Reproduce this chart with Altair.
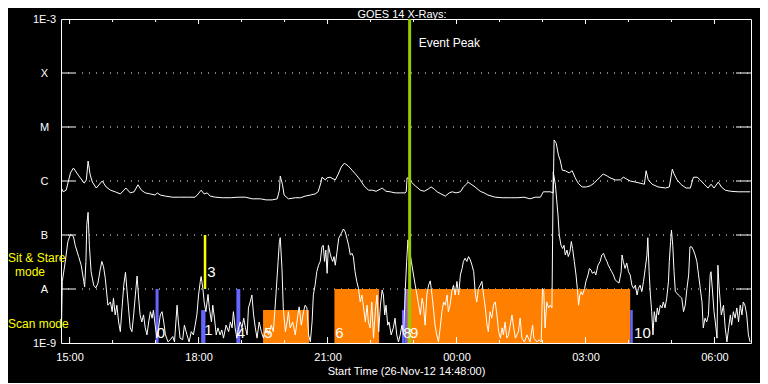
import json
import altair as alt
import pandas as pd

# ---------------- data (time in hours from 26-Nov-12 00:00 UT, flux as log10 W/m^2) ----------------
long_t = [14.81, 14.85, 14.92, 15.02, 15.09, 15.20, 15.34, 15.39, 15.43, 15.48,
          15.53, 15.62, 15.76, 15.85, 15.95, 16.06, 16.18, 16.31, 16.41, 16.50,
          16.59, 16.67, 16.76, 16.88, 16.99, 17.04, 17.11, 17.23, 17.39, 17.58,
          17.76, 17.92, 17.99, 18.06, 18.13, 18.20, 18.27, 18.39, 18.55, 18.74,
          18.92, 19.09, 19.25, 19.44, 19.57, 19.71, 19.83, 19.88, 19.90, 19.95,
          19.99, 20.09, 20.25, 20.37, 20.48, 20.60, 20.71, 20.78, 20.85, 20.87,
          20.95, 20.99, 21.06, 21.13, 21.18, 21.25, 21.32, 21.39, 21.48, 21.57,
          21.67, 21.76, 21.85, 21.95, 22.04, 22.13, 22.23, 22.27, 22.36, 22.46,
          22.57, 22.69, 22.80, 22.83, 22.85, 22.90, 22.95, 23.04, 23.16, 23.25,
          23.34, 23.41, 23.48, 23.55, 23.64, 23.74, 23.83, 23.90, 23.99, 24.09,
          24.16, 24.23, 24.27, 24.34, 24.43, 24.55, 24.64, 24.73, 24.90, 25.06,
          25.25, 25.43, 25.57, 25.71, 25.83, 25.95, 26.02, 26.18, 26.25, 26.27,
          26.32, 26.37, 26.41, 26.46, 26.53, 26.62, 26.69, 26.76, 26.83, 26.92,
          27.02, 27.11, 27.20, 27.27, 27.34, 27.41, 27.51, 27.57, 27.69, 27.81,
          27.88, 27.95, 28.04, 28.16, 28.27, 28.37, 28.41, 28.46, 28.55, 28.69,
          28.86, 28.95, 29.02, 29.06, 29.13, 29.23, 29.34, 29.44, 29.51, 29.60,
          29.67, 29.76, 29.85, 29.92, 29.99, 30.09, 30.16, 30.25, 30.37, 30.55,
          30.71, 30.83]
long_f = [-6.13, -6.20, -6.17, -5.85, -5.76, -5.89, -6.04, -5.98, -5.63, -5.89,
          -6.02, -6.13, -6.00, -6.11, -6.17, -6.20, -6.24, -6.13, -6.22, -6.20,
          -6.07, -6.17, -6.22, -6.24, -6.26, -6.22, -6.26, -6.28, -6.30, -6.30,
          -6.30, -6.30, -6.24, -6.17, -6.24, -6.22, -6.28, -6.30, -6.31, -6.31,
          -6.30, -6.30, -6.33, -6.33, -6.35, -6.35, -6.33, -6.17, -5.91, -6.06,
          -6.26, -6.33, -6.31, -6.31, -6.28, -6.26, -6.24, -6.20, -6.02, -5.93,
          -5.98, -5.94, -5.93, -5.96, -5.98, -5.87, -5.74, -5.67, -5.72, -5.80,
          -5.89, -5.98, -6.09, -6.17, -6.17, -6.19, -6.15, -6.13, -6.19, -6.20,
          -6.22, -6.22, -6.22, -6.20, -5.94, -5.96, -6.02, -6.09, -6.17, -6.19,
          -6.15, -6.11, -6.15, -6.20, -6.24, -6.28, -6.22, -6.20, -6.22, -6.20,
          -6.11, -6.06, -6.02, -6.06, -6.11, -6.19, -6.22, -6.26, -6.30, -6.31,
          -6.31, -6.31, -6.30, -6.33, -6.30, -6.30, -6.20, -6.20, -6.22, -5.24,
          -5.30, -5.52, -5.61, -5.80, -5.81, -5.85, -5.81, -5.94, -6.04, -6.11,
          -6.11, -6.09, -6.04, -5.98, -5.93, -5.87, -5.91, -5.94, -5.98, -5.98,
          -5.93, -5.96, -6.00, -6.02, -6.04, -6.06, -5.81, -5.98, -6.06, -6.11,
          -6.13, -6.11, -5.78, -5.87, -5.98, -6.07, -6.13, -6.13, -5.93, -5.93,
          -5.98, -6.06, -6.13, -6.06, -6.13, -6.02, -6.11, -6.17, -6.19, -6.20,
          -6.20, -6.20]

short_t = [14.81, 14.83, 14.90, 14.96, 15.02, 15.09, 15.13, 15.21, 15.27, 15.33,
           15.35, 15.38, 15.40, 15.43, 15.46, 15.50, 15.56, 15.61, 15.66, 15.71,
           15.75, 15.79, 15.83, 15.89, 15.95, 15.99, 16.02, 16.06, 16.10, 16.14,
           16.18, 16.22, 16.26, 16.30, 16.33, 16.37, 16.41, 16.45, 16.49, 16.53,
           16.57, 16.60, 16.64, 16.68, 16.72, 16.76, 16.80, 16.84, 16.88, 16.92,
           16.95, 16.99, 17.03, 17.07, 17.11, 17.15, 17.19, 17.23, 17.29, 17.34,
           17.40, 17.44, 17.50, 17.53, 17.57, 17.63, 17.67, 17.73, 17.78, 17.83,
           17.88, 17.92, 17.96, 18.00, 18.04, 18.06, 18.10, 18.13, 18.17, 18.22,
           18.25, 18.30, 18.33, 18.37, 18.41, 18.45, 18.50, 18.54, 18.58, 18.64,
           18.70, 18.74, 18.78, 18.81, 18.85, 18.89, 18.93, 18.97, 19.01, 19.05,
           19.09, 19.13, 19.16, 19.20, 19.24, 19.28, 19.32, 19.36, 19.41, 19.46,
           19.51, 19.57, 19.63, 19.69, 19.74, 19.80, 19.85, 19.88, 19.90, 19.94,
           19.97, 20.02, 20.06, 20.09, 20.13, 20.19, 20.25, 20.31, 20.34, 20.39,
           20.44, 20.48, 20.52, 20.56, 20.60, 20.64, 20.67, 20.71, 20.75, 20.79,
           20.83, 20.87, 20.90, 20.93, 20.96, 20.99, 21.02, 21.06, 21.09, 21.12,
           21.15, 21.18, 21.22, 21.26, 21.32, 21.37, 21.41, 21.45, 21.49, 21.53,
           21.57, 21.60, 21.64, 21.68, 21.72, 21.76, 21.80, 21.84, 21.88, 21.92,
           21.95, 21.99, 22.03, 22.07, 22.11, 22.15, 22.19, 22.23, 22.27, 22.30,
           22.33, 22.36, 22.40, 22.43, 22.48, 22.53, 22.57, 22.61, 22.65, 22.69,
           22.73, 22.77, 22.81, 22.84, 22.87, 22.90, 22.95, 23.00, 23.04, 23.08,
           23.12, 23.16, 23.20, 23.23, 23.27, 23.31, 23.35, 23.39, 23.43, 23.47,
           23.50, 23.54, 23.58, 23.62, 23.66, 23.70, 23.74, 23.78, 23.81, 23.85,
           23.89, 23.93, 23.97, 24.01, 24.05, 24.09, 24.13, 24.16, 24.20, 24.24,
           24.28, 24.32, 24.36, 24.40, 24.44, 24.47, 24.51, 24.55, 24.59, 24.63,
           24.67, 24.71, 24.74, 24.78, 24.82, 24.86, 24.90, 24.94, 24.98, 25.02,
           25.06, 25.09, 25.13, 25.17, 25.21, 25.29, 25.33, 25.37, 25.44, 25.48,
           25.52, 25.58, 25.64, 25.71, 25.77, 25.80, 25.87, 25.92, 25.97, 26.00,
           26.03, 26.06, 26.10, 26.14, 26.18, 26.22, 26.25, 26.30, 26.36, 26.39,
           26.43, 26.47, 26.50, 26.53, 26.57, 26.60, 26.64, 26.67, 26.70, 26.74,
           26.78, 26.81, 26.84, 26.87, 26.90, 26.93, 26.98, 27.01, 27.06, 27.09,
           27.13, 27.16, 27.21, 27.24, 27.29, 27.34, 27.38, 27.42, 27.46, 27.50,
           27.53, 27.57, 27.61, 27.65, 27.69, 27.73, 27.78, 27.83, 27.85, 27.88,
           27.92, 27.96, 28.00, 28.04, 28.08, 28.12, 28.16, 28.20, 28.23, 28.27,
           28.31, 28.35, 28.39, 28.43, 28.45, 28.48, 28.51, 28.54, 28.57, 28.60,
           28.64, 28.67, 28.70, 28.74, 28.78, 28.81, 28.85, 28.89, 28.93, 28.95,
           28.98, 29.00, 29.03, 29.06, 29.09, 29.13, 29.16, 29.20, 29.24, 29.28,
           29.32, 29.36, 29.40, 29.43, 29.47, 29.51, 29.55, 29.59, 29.63, 29.67,
           29.71, 29.74, 29.78, 29.82, 29.86, 29.90, 29.92, 29.95, 29.99, 30.02,
           30.06, 30.08, 30.11, 30.16, 30.21, 30.25, 30.29, 30.33, 30.37, 30.40,
           30.44, 30.48, 30.52, 30.56, 30.60, 30.64, 30.67, 30.71, 30.75, 30.79,
           30.83]
short_f = [-8.79, -7.86, -7.49, -7.12, -6.99, -7.03, -7.19, -7.40, -7.56, -7.86,
           -7.96, -7.49, -6.81, -6.58, -7.19, -7.68, -7.93, -7.98, -7.89, -7.65,
           -7.49, -7.59, -7.80, -8.30, -8.24, -8.42, -8.17, -8.48, -8.30, -8.61,
           -8.79, -8.35, -7.93, -7.69, -7.98, -8.35, -8.72, -8.79, -8.48, -8.11,
           -7.76, -8.11, -8.48, -8.61, -8.48, -8.72, -8.85, -8.61, -8.42, -8.54,
           -8.39, -8.67, -8.91, -8.72, -8.48, -8.42, -8.61, -8.85, -8.98, -8.94,
           -8.88, -8.98, -8.30, -8.61, -8.91, -8.94, -8.67, -8.85, -8.98, -8.79,
           -8.85, -8.67, -8.48, -8.11, -7.86, -7.77, -7.99, -8.24, -8.42, -8.10,
           -8.35, -8.61, -8.30, -8.54, -8.85, -8.72, -8.85, -8.76, -8.91, -8.67,
           -8.79, -8.61, -8.72, -8.42, -8.72, -8.91, -8.72, -8.61, -8.72, -8.54,
           -8.72, -8.85, -8.35, -8.24, -8.11, -8.48, -8.72, -8.91, -8.61, -8.79,
           -8.91, -8.72, -8.85, -8.67, -8.79, -8.11, -7.49, -7.12, -7.05, -7.62,
           -8.35, -8.79, -8.61, -8.42, -8.72, -8.61, -8.85, -8.48, -8.33, -8.67,
           -8.42, -8.30, -8.35, -8.85, -8.98, -8.61, -8.11, -7.93, -7.68, -7.56,
           -7.49, -7.22, -7.19, -7.49, -7.28, -7.71, -7.19, -7.34, -7.43, -7.49,
           -7.40, -7.56, -7.31, -7.06, -6.97, -6.89, -6.94, -7.06, -7.19, -7.37,
           -7.34, -7.40, -7.68, -7.86, -7.99, -8.24, -8.11, -8.35, -8.61, -8.30,
           -8.61, -8.72, -8.24, -8.91, -8.42, -8.11, -8.79, -8.30, -8.02, -8.11,
           -8.48, -8.30, -8.67, -8.61, -8.85, -8.72, -8.54, -8.85, -8.98, -8.85,
           -8.67, -8.85, -7.99, -7.49, -7.09, -7.25, -7.49, -7.74, -7.93, -8.11,
           -8.30, -8.48, -8.17, -8.30, -8.67, -8.11, -7.93, -7.85, -8.11, -8.42,
           -8.67, -8.85, -8.98, -8.72, -8.42, -8.24, -8.30, -8.11, -8.42, -8.30,
           -8.05, -7.93, -8.11, -7.86, -8.11, -7.74, -7.62, -7.49, -7.43, -7.49,
           -7.40, -7.46, -7.56, -7.68, -8.11, -8.24, -7.99, -7.93, -7.86, -8.11,
           -8.35, -8.67, -8.79, -8.42, -8.54, -8.30, -8.24, -8.48, -8.79, -8.91,
           -8.72, -8.85, -8.61, -8.91, -8.85, -8.48, -8.72, -8.91, -8.79, -8.54,
           -8.91, -8.98, -8.85, -8.98, -8.67, -8.91, -8.98, -8.94, -8.98, -7.99,
           -8.05, -8.72, -8.24, -8.35, -8.30, -8.35, -5.83, -6.07, -6.63, -7.00,
           -7.19, -7.25, -7.19, -7.37, -7.28, -7.40, -7.31, -7.12, -7.25, -7.49,
           -7.74, -7.99, -8.30, -8.11, -8.05, -8.11, -7.99, -7.86, -7.74, -7.62,
           -7.65, -7.71, -7.68, -7.74, -7.56, -7.49, -7.37, -7.34, -7.43, -7.49,
           -7.56, -7.62, -7.68, -7.74, -7.83, -7.86, -7.89, -7.68, -7.37, -7.49,
           -7.62, -7.52, -7.68, -7.74, -7.93, -7.99, -7.93, -8.11, -7.99, -7.93,
           -8.05, -7.86, -7.62, -7.37, -7.05, -7.68, -8.11, -8.42, -8.85, -8.42,
           -8.61, -8.35, -8.48, -8.30, -8.35, -8.24, -8.35, -8.17, -7.86, -7.49,
           -7.12, -6.91, -7.19, -7.68, -8.05, -8.08, -8.11, -8.14, -8.17, -8.42,
           -8.30, -7.99, -7.74, -7.22, -7.22, -7.28, -7.37, -7.49, -7.74, -7.99,
           -8.24, -8.72, -8.54, -8.61, -8.48, -7.74, -7.68, -7.99, -8.42, -8.61,
           -8.91, -7.56, -7.99, -8.48, -8.30, -8.72, -8.98, -8.72, -8.48, -8.67,
           -8.42, -8.54, -8.35, -8.61, -8.30, -8.48, -8.24, -8.30, -8.48, -8.85,
           -8.98]

# scan-mode intervals (orange) and their top level
scan_start = [19.50, 21.16, 22.85]
scan_end = [20.57, 22.20, 28.04]
scan_top = [-8.39, -8.00, -8.00]

# short markers (blue)
blue_start = [17.00, 18.06, 18.88, 22.73, 22.79, 28.04]
blue_end = [17.07, 18.16, 18.97, 22.79, 22.85, 28.10]
blue_top = [-8.00, -8.39, -8.00, -8.39, -8.00, -8.39]

# numbered observation labels
label_text = ["0", "1", "3", "4", "5", "6", "8", "9", "10"]
label_t = [17.03, 18.13, 18.20, 18.89, 19.53, 21.18, 22.76, 22.92, 28.13]
label_f = [-8.81, -8.76, -7.69, -8.81, -8.81, -8.81, -8.81, -8.81, -8.81]

# sit & stare marker (yellow) and event peak (green)
stare_t = [18.15]
stare_lo = [-8.0]
stare_hi = [-7.0]
peak_t = [22.91]

level_values = [-9, -8, -7, -6, -5, -4, -3]
level_names = ["1E-9", "A", "B", "C", "M", "X", "1E-3"]
grid_levels = [-8, -7, -6, -5, -4]
hour_ticks = list(range(15, 31))
major_hours = [15, 18, 21, 24, 27, 30]

# ---------------- chart ----------------
W, H = 690, 324
FONT = "Liberation Sans"

x_scale = alt.Scale(domain=[14.8, 30.85], nice=False, zero=False)
y_scale = alt.Scale(domain=[-9, -3], nice=False, zero=False)

x_axis = alt.Axis(values=major_hours,
                  labelExpr="(datum.value % 24 < 10 ? '0' : '') + (datum.value % 24) + ':00'",
                  title="Start Time (26-Nov-12 14:48:00)", ticks=False, domain=False, grid=False,
                  labelPadding=8, titlePadding=3, labelFontSize=11, titleFontSize=11,
                  labelColor="white", titleColor="white", titleFontWeight="normal",
                  labelFont=FONT, titleFont=FONT, labelFlush=False, labelOverlap=False)
y_axis = alt.Axis(values=level_values,
                  labelExpr=json.dumps(level_names) + "[datum.value + 9]",
                  title=None, ticks=False, domain=False, grid=False,
                  labelAlign="center", labelBaseline="middle", labelPadding=17,
                  labelFontSize=11, labelColor="white", labelFont=FONT,
                  labelFlush=False, labelOverlap=False)


def X(field="t"):
    return alt.X(f"{field}:Q", scale=x_scale, axis=x_axis)


def Y(field="f"):
    return alt.Y(f"{field}:Q", scale=y_scale, axis=y_axis)


long_df = pd.DataFrame({"t": long_t, "f": long_f})
short_df = pd.DataFrame({"t": short_t, "f": short_f})
scan_df = pd.DataFrame({"t": scan_start, "t2": scan_end, "f": scan_top})
blue_df = pd.DataFrame({"t": blue_start, "t2": blue_end, "f": blue_top})
lab_df = pd.DataFrame({"t": label_t, "f": label_f, "txt": label_text})
grid_df = pd.DataFrame({"f": grid_levels})
tick_df = pd.DataFrame({"t": hour_ticks, "major": [h in major_hours for h in hour_ticks]})
major_df = tick_df[tick_df.major]
minor_df = tick_df[~tick_df.major]
stare_df = pd.DataFrame({"t": stare_t, "f": stare_lo, "f2": stare_hi})
peak_df = pd.DataFrame({"t": peak_t, "f": [-9.0], "f2": [-3.0], "txt": ["Event Peak"], "ty": [-3.44]})

grid = alt.Chart(grid_df).mark_rule(color="white", strokeWidth=1, strokeDash=[1, 6]).encode(
    y=Y(), x=alt.value(0), x2=alt.value(W))
seg_left = alt.Chart(grid_df).mark_rule(color="white", strokeWidth=1).encode(
    y=Y(), x=alt.value(0), x2=alt.value(14))
seg_right = alt.Chart(grid_df).mark_rule(color="white", strokeWidth=1).encode(
    y=Y(), x=alt.value(W - 15), x2=alt.value(W))

scan = alt.Chart(scan_df).mark_rect(color="#FF8000").encode(
    x=X(), x2=alt.X2("t2:Q"), y=Y(), y2=alt.datum(-9))
blue = alt.Chart(blue_df).mark_rect(color="#6666FF").encode(
    x=X(), x2=alt.X2("t2:Q"), y=Y(), y2=alt.datum(-9))

top_major = alt.Chart(major_df).mark_rule(color="white").encode(x=X(), y=alt.value(0), y2=alt.value(5))
top_minor = alt.Chart(minor_df).mark_rule(color="white").encode(x=X(), y=alt.value(0), y2=alt.value(3))
bot_major = alt.Chart(major_df).mark_rule(color="white").encode(x=X(), y=alt.value(H), y2=alt.value(H - 6))
bot_minor = alt.Chart(minor_df).mark_rule(color="white").encode(x=X(), y=alt.value(H), y2=alt.value(H - 3))

long_line = alt.Chart(long_df).mark_line(color="white", strokeWidth=1).encode(x=X(), y=Y())
short_line = alt.Chart(short_df).mark_line(color="white", strokeWidth=1).encode(x=X(), y=Y())

stare = alt.Chart(stare_df).mark_rule(color="#FFFF00", strokeWidth=2.5).encode(
    x=X(), y=Y(), y2=alt.Y2("f2:Q"))
peak = alt.Chart(peak_df).mark_rule(color="#99CC00", strokeWidth=3).encode(
    x=X(), y=Y(), y2=alt.Y2("f2:Q"))
peak_txt = alt.Chart(peak_df).mark_text(color="white", align="left", baseline="middle",
                                         dx=9, fontSize=12, font=FONT).encode(
    x=X(), y=alt.Y("ty:Q", scale=y_scale, axis=y_axis), text="txt:N")

labels = alt.Chart(lab_df).mark_text(color="white", align="left", baseline="middle",
                                     fontSize=15, font=FONT).encode(x=X(), y=Y(), text="txt:N")

title_df = pd.DataFrame({"txt": ["GOES 14 X-Rays:"]})
title = alt.Chart(title_df).mark_text(color="white", align="center", baseline="alphabetic",
                                      fontSize=11, font=FONT).encode(
    text="txt:N", x=alt.value(341), y=alt.value(-1))

side_df = pd.DataFrame({"txt": ["Sit & Stare", "mode", "Scan mode"],
                        "f": [-7.42, -7.68, -8.65]})
side_a = alt.Chart(side_df.iloc[[0, 2]]).mark_text(color="#FFFF00", align="left", baseline="middle",
                                                    fontSize=12, font=FONT).encode(
    text="txt:N", y=Y(), x=alt.value(-53))
side_b = alt.Chart(side_df.iloc[[1]]).mark_text(color="#FFFF00", align="left", baseline="middle",
                                                 fontSize=12, font=FONT).encode(
    text="txt:N", y=Y(), x=alt.value(-46))

chart = alt.layer(
    grid, scan, blue, seg_left, seg_right, top_major, top_minor, bot_major, bot_minor,
    long_line, short_line, stare, peak, peak_txt, labels, title, side_a, side_b
).properties(
    width=W, height=H, autosize="none",
    padding={"left": 53, "top": 11, "right": 9, "bottom": 40},
).configure(background="black", font=FONT).configure_view(stroke="white", strokeWidth=1)

chart.save("out.html", embed_options={"renderer": "svg", "actions": False})
